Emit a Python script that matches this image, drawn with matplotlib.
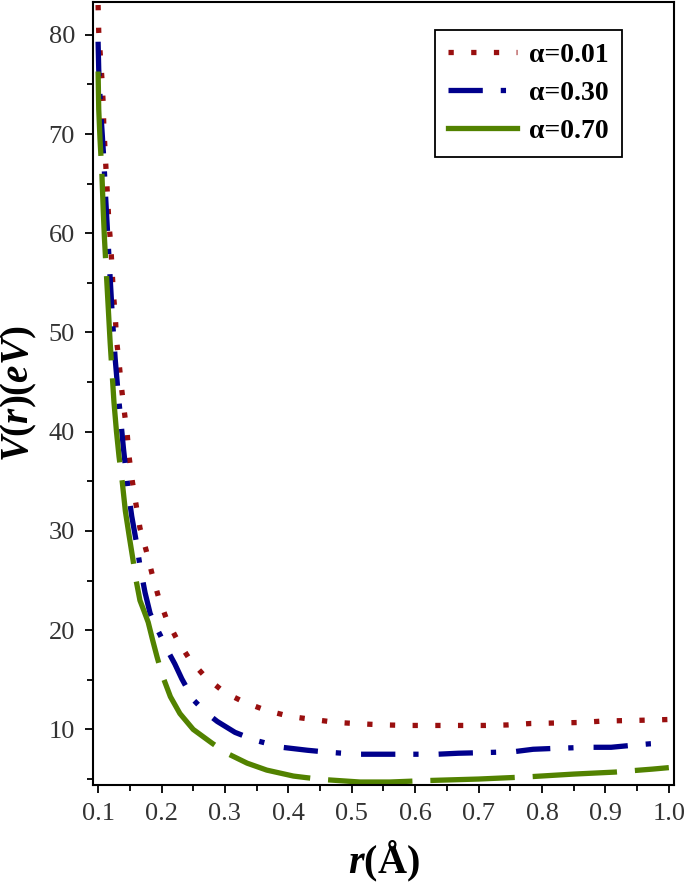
import numpy as np
import matplotlib
matplotlib.use('Agg')
import matplotlib.pyplot as plt
from matplotlib.lines import Line2D
from matplotlib.ticker import MultipleLocator

# values: r in Angstrom, V in eV
red_r = [0.100, 0.101, 0.106, 0.108, 0.109, 0.111, 0.113, 0.115, 0.117, 0.120, 0.124, 0.127,
         0.129, 0.133, 0.137, 0.141, 0.146, 0.149, 0.154, 0.160, 0.166, 0.176, 0.185, 0.195,
         0.208, 0.225, 0.245, 0.269, 0.300, 0.332, 0.366, 0.403, 0.439, 0.477, 0.518, 0.554,
         0.590, 0.630, 0.666, 0.710, 0.745, 0.783, 0.824, 0.860, 0.898, 0.940, 0.975, 1.000]
red_v = [83.0, 80.3, 75.6, 73.1, 70.8, 68.3, 65.8, 63.6, 61.1, 58.8, 54.0, 51.8,
         49.3, 47.0, 44.4, 42.2, 39.7, 37.4, 35.0, 32.6, 30.3, 28.0, 25.7, 23.4,
         21.1, 19.0, 17.0, 15.3, 13.7, 12.7, 11.9, 11.3, 11.0, 10.7, 10.55, 10.45,
         10.4, 10.4, 10.4, 10.4, 10.45, 10.6, 10.65, 10.7, 10.85, 10.9, 10.95, 11.0]

blue_r = [0.100, 0.101, 0.104, 0.106, 0.109, 0.112, 0.115, 0.119, 0.123, 0.127, 0.131, 0.136,
          0.140, 0.144, 0.148, 0.153, 0.160, 0.166, 0.174, 0.182, 0.190, 0.198, 0.210, 0.221,
          0.232, 0.250, 0.270, 0.288, 0.316, 0.348, 0.390, 0.430, 0.463, 0.508, 0.548, 0.600,
          0.635, 0.668, 0.700, 0.755, 0.786, 0.824, 0.873, 0.909, 0.942, 0.970, 1.000]
blue_v = [79.3, 76.5, 72.5, 70.5, 67.5, 63.5, 60.0, 55.5, 51.0, 47.3, 44.3, 41.0,
          38.3, 36.0, 33.8, 31.5, 29.0, 26.5, 23.8, 21.7, 20.5, 19.5, 17.9, 16.6,
          15.1, 13.0, 11.7, 10.8, 9.7, 8.9, 8.2, 7.9, 7.7, 7.5, 7.5, 7.5,
          7.5, 7.6, 7.65, 7.75, 8.0, 8.1, 8.2, 8.2, 8.4, 8.55, 8.65]

green_r = [0.100, 0.101, 0.103, 0.106, 0.108, 0.110, 0.113, 0.116, 0.119, 0.122, 0.125, 0.129,
           0.133, 0.138, 0.143, 0.149, 0.155, 0.160, 0.166, 0.172, 0.179, 0.186, 0.193, 0.201,
           0.214, 0.229, 0.250, 0.280, 0.303, 0.335, 0.366, 0.408, 0.427, 0.455, 0.513, 0.560,
           0.620, 0.700, 0.753, 0.785, 0.850, 0.915, 0.944, 0.974, 1.000]
green_v = [76.3, 72.5, 69.5, 66.0, 62.5, 59.5, 56.0, 52.5, 49.0, 46.0, 43.0, 40.0,
           37.5, 35.0, 32.0, 29.5, 27.1, 25.0, 23.0, 22.0, 20.8, 19.0, 17.3, 15.5,
           13.3, 11.6, 10.0, 8.6, 7.6, 6.6, 5.9, 5.3, 5.15, 4.95, 4.7, 4.7,
           4.85, 5.0, 5.15, 5.25, 5.5, 5.7, 5.85, 6.0, 6.15]

labels = ['α=0.01', 'α=0.30', 'α=0.70']
colors = ['#990f0f', '#00008c', '#528200']

plt.rcParams['mathtext.fontset'] = 'custom'
plt.rcParams['mathtext.rm'] = 'Liberation Serif:bold'
plt.rcParams['mathtext.it'] = 'Liberation Serif:italic:bold'
plt.rcParams['mathtext.bf'] = 'Liberation Serif:bold'

fig = plt.figure(figsize=(6.85, 8.85), dpi=100)
ax = fig.add_axes([0.1358, 0.113, 0.848, 0.8847])

lw = 3.8
ax.plot(red_r, red_v, color=colors[0], lw=lw, linestyle=(0, (1, 3.3)), dash_capstyle='butt')
ax.plot(blue_r, blue_v, color=colors[1], lw=lw, linestyle=(0, (6.5, 3.4, 1, 3.8)), dash_capstyle='butt')
ax.plot(green_r, green_v, color=colors[2], lw=lw, linestyle=(0, (16, 3.4)), dash_capstyle='butt')

ax.set_xlim(0.092, 1.008)
ax.set_ylim(4.4, 83.3)
ax.xaxis.set_minor_locator(MultipleLocator(0.05))
ax.yaxis.set_minor_locator(MultipleLocator(5))
ax.set_xticks(np.arange(0.1, 1.01, 0.1))
ax.set_xticklabels(['0.1', '0.2', '0.3', '0.4', '0.5', '0.6', '0.7', '0.8', '0.9', '1.0'])
ax.set_yticks([10, 20, 30, 40, 50, 60, 70, 80])

ax.tick_params(which='major', direction='out', length=6, width=1.3, labelsize=19,
               labelcolor='#333333', pad=7)
ax.tick_params(which='minor', direction='out', length=4, width=1.3)
for lab in ax.get_xticklabels() + ax.get_yticklabels():
    lab.set_family('Liberation Serif')
for sp in ax.spines.values():
    sp.set_linewidth(1.5)

ax.set_xlabel(r'$r(\mathrm{Å})$', fontsize=29, va='center')
ax.xaxis.set_label_coords(0.5, -0.098)
ax.set_ylabel(r'$V(r)(eV)$', fontsize=28, va='center')
ax.yaxis.set_label_coords(-0.128, 0.5)

handles = [
    Line2D([], [], color=colors[0], lw=lw, linestyle=(0, (1, 3.3)), dash_capstyle='butt'),
    Line2D([], [], color=colors[1], lw=lw, linestyle=(0, (6.5, 3.4, 1, 3.8)), dash_capstyle='butt'),
    Line2D([], [], color=colors[2], lw=lw),
]
leg = ax.legend(handles, labels, loc='upper right', bbox_to_anchor=(0.91, 0.964),
                borderaxespad=0, fancybox=False, edgecolor='black', framealpha=1,
                handlelength=2.5, handletextpad=0.45, labelspacing=0.45, borderpad=0.45,
                prop={'family': 'Liberation Serif', 'weight': 'bold', 'size': 20})
leg.get_frame().set_linewidth(1.3)

fig.savefig('out.png', dpi=100)
